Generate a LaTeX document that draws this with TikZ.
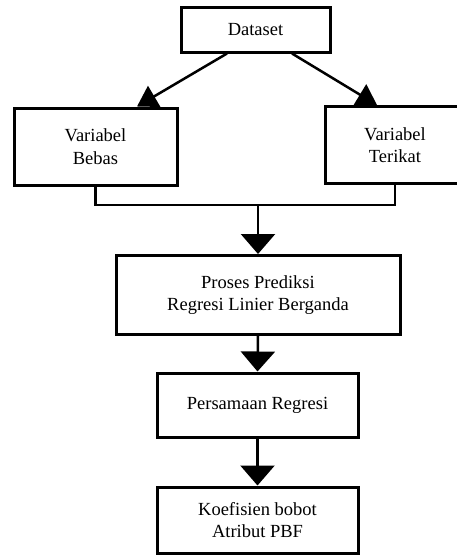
\documentclass[tikz,border=0pt]{standalone}
\usepackage{fontspec}
\setmainfont{Liberation Serif}
\usetikzlibrary{arrows.meta}
\tikzset{
   box/.style ={
      rectangle, draw, line width=3pt, align=center,
      font=\fontsize{18.5}{22.5}\selectfont, inner sep=0pt,
   },
   line/.style ={
      -, line width=2.5pt, color=black,
   },
   arrow/.style ={
      -{Triangle[length=20pt,width=34pt]}, line width=2.5pt, color=black,
   },
   slant/.style ={
      -{Triangle[length=20pt,width=24pt]}, line width=2.5pt, color=black,
   },
}
\begin{document}
\begin{tikzpicture}[x=1pt,y=-1pt]

      \useasboundingbox (0,0) rectangle (457,555);

      \node[box, minimum width=149pt, minimum height=45pt]
         (dataset) at (255.5,29.5) {Dataset};

      \node[box, minimum width=163pt, minimum height=77pt]
         (bebas) at (95.5,146.5) {Variabel\\Bebas};

      \node[box, minimum width=140pt, minimum height=77pt]
         (terikat) at (395,145) {Variabel\\Terikat};

      \node[box, minimum width=284pt, minimum height=79pt]
         (proses) at (258,295) {Proses Prediksi\\Regresi Linier Berganda};

      \node[box, minimum width=201pt, minimum height=64pt]
         (persamaan) at (257.5,405) {Persamaan Regresi};

      \node[box, minimum width=201pt, minimum height=66pt]
         (koefisien) at (257.5,520) {Koefisien bobot\\Atribut PBF};

      \coordinate (merge) at (258,205);

      \draw[slant] ([xshift=-28.5pt]dataset.south) -- ([xshift=41.5pt]bebas.north);
      \draw[slant] ([xshift=36.5pt]dataset.south)  -- ([xshift=-18pt]terikat.north);
      \draw[line]  (bebas.south) |- (merge) -| (terikat.south);
      \draw[arrow] (merge)           -- (proses.north);
      \draw[arrow] (proses.south)    -- (persamaan.north);
      \draw[arrow] (persamaan.south) -- (koefisien.north);

\end{tikzpicture}
\end{document}
